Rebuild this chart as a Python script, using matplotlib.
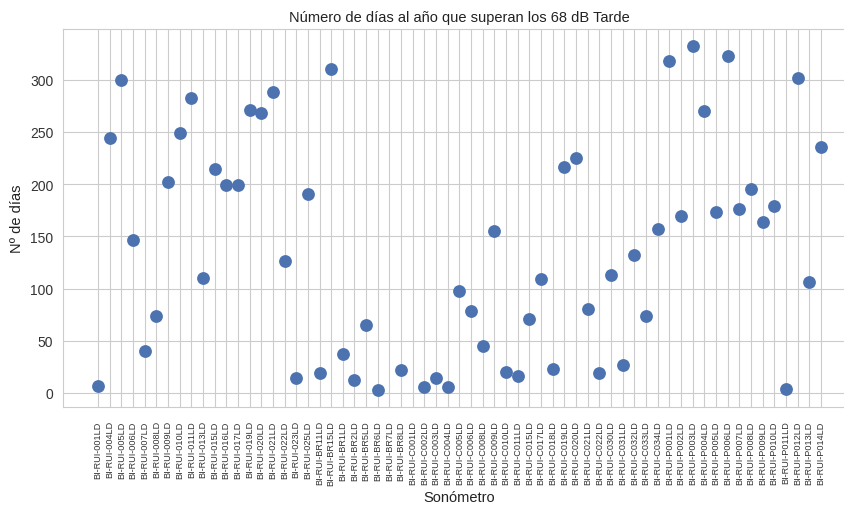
import numpy as np
import matplotlib
matplotlib.use("Agg")
import matplotlib.pyplot as plt
import seaborn as sns

sns.set_style("whitegrid")
plt.rcParams['font.family'] = ['Liberation Sans', 'DejaVu Sans']

sonometros = [
    "BI-RUI-001LD", "BI-RUI-004LD", "BI-RUI-005LD", "BI-RUI-006LD", "BI-RUI-007LD",
    "BI-RUI-008LD", "BI-RUI-009LD", "BI-RUI-010LD", "BI-RUI-011LD", "BI-RUI-013LD",
    "BI-RUI-015LD", "BI-RUI-016LD", "BI-RUI-017LD", "BI-RUI-019LD", "BI-RUI-020LD",
    "BI-RUI-021LD", "BI-RUI-022LD", "BI-RUI-023LD", "BI-RUI-025LD",
    "BI-RUI-BR11LD", "BI-RUI-BR15LD", "BI-RUI-BR1LD", "BI-RUI-BR2LD", "BI-RUI-BR5LD",
    "BI-RUI-BR6LD", "BI-RUI-BR7LD", "BI-RUI-BR8LD",
    "BI-RUI-C001LD", "BI-RUI-C002LD", "BI-RUI-C003LD", "BI-RUI-C004LD", "BI-RUI-C005LD",
    "BI-RUI-C006LD", "BI-RUI-C008LD", "BI-RUI-C009LD", "BI-RUI-C010LD", "BI-RUI-C011LD",
    "BI-RUI-C015LD", "BI-RUI-C017LD", "BI-RUI-C018LD", "BI-RUI-C019LD", "BI-RUI-C020LD",
    "BI-RUI-C021LD", "BI-RUI-C022LD", "BI-RUI-C030LD", "BI-RUI-C031LD", "BI-RUI-C032LD",
    "BI-RUI-C033LD", "BI-RUI-C034LD",
    "BI-RUI-P001LD", "BI-RUI-P002LD", "BI-RUI-P003LD", "BI-RUI-P004LD", "BI-RUI-P005LD",
    "BI-RUI-P006LD", "BI-RUI-P007LD", "BI-RUI-P008LD", "BI-RUI-P009LD", "BI-RUI-P010LD",
    "BI-RUI-P011LD", "BI-RUI-P012LD", "BI-RUI-P013LD", "BI-RUI-P014LD",
]

dias = [
    7, 244, 300, 146, 40, 74, 202, 249, 282, 110,
    214, 199, 199, 271, 268, 288, 126, 14, 190,
    19, 310, 37, 12, 65, 3, np.nan, 22,
    np.nan, 6, 14, 6, 98, 78, 45, 155, 20, 16,
    71, 109, 23, 216, 225, 80, 19, 113, 27, 132,
    74, 157,
    318, 169, 332, 270, 173, 323, 176, 195, 164, 179,
    4, 302, 106, 235,
]

fig = plt.figure(figsize=(8.45, 5.06), dpi=100)
ax = fig.add_axes([63 / 845, 98 / 506, 0.9383, 378 / 506])

x = np.arange(len(sonometros))
ax.scatter(x, dias, s=85, color="#4C72B0", linewidths=0, zorder=3)

ax.set_xticks(x)
ax.set_xticklabels(sonometros, rotation=90, fontsize=6.6, color='#333333')
ax.set_xlim(-3.0, 65.0)
ax.tick_params(axis='x', pad=6)
ax.tick_params(axis='y', labelsize=10, colors='#333333')
ax.set_yticks([0, 50, 100, 150, 200, 250, 300])

ax.set_title("Número de días al año que superan los 68 dB Tarde", fontsize=10.5, color='#222222')
ax.set_xlabel("Sonómetro", fontsize=10.5, color='#222222', va='center')
ax.xaxis.set_label_coords(0.5, (408 - 498) / 378)
ax.set_ylabel("Nº de días", fontsize=10.5, color='#222222')

fig.savefig("out.png", dpi=100)
